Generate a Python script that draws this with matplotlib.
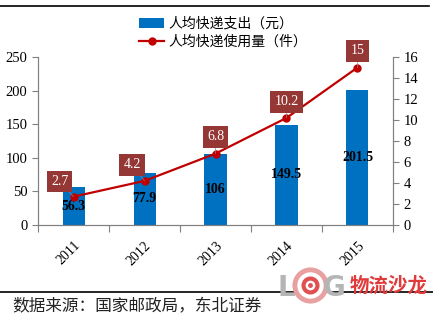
import matplotlib

matplotlib.use("Agg")
import matplotlib.pyplot as plt
from matplotlib.lines import Line2D

plt.rcParams["font.family"] = ["Liberation Serif", "Noto Sans CJK SC", "DejaVu Sans"]

YEARS = ["2011", "2012", "2013", "2014", "2015"]
SPEND = [56.3, 77.9, 106, 149.5, 201.5]
USAGE = [2.7, 4.2, 6.8, 10.2, 15]
USAGE_OFFSETS = [(-10, 11), (-9, 11.5), (0, 12), (0, 11.5), (0, 12)]

SPEND_LABEL = "人均快递支出（元）"
USAGE_LABEL = "人均快递使用量（件）"
SOURCE = "数据来源：国家邮政局，东北证券"

BAR_COLOR = "#0070C0"
LINE_COLOR = "#C00000"
BOX_COLOR = "#953735"
SPINE_COLOR = "#808080"
CJK = ["Noto Sans CJK SC", "DejaVu Sans"]


def main() -> None:
    fig = plt.figure(figsize=(4.33, 3.23), dpi=100)
    ax = fig.add_axes([0.0878, 0.3034, 0.8198, 0.5201])
    ax2 = ax.twinx()

    x = list(range(len(YEARS)))
    bars = ax.bar(x, SPEND, width=0.31, color=BAR_COLOR, zorder=2)
    for xi, v in zip(x, SPEND):
        ax.text(xi, v / 2, f"{v:g}", ha="center", va="center",
                fontsize=10, fontweight="bold", color="black", zorder=3)

    (line,) = ax2.plot(x, USAGE, color=LINE_COLOR, lw=1.6, marker="o", ms=5,
                       zorder=4)
    for xi, v, (dx, dy) in zip(x, USAGE, USAGE_OFFSETS):
        ax2.annotate(
            f"{v:g}", (xi, v), xytext=(dx, dy), textcoords="offset points",
            ha="center", va="center", color="white", fontsize=10,
            bbox=dict(boxstyle="square,pad=0.3", fc=BOX_COLOR, ec="none"),
            arrowprops=dict(arrowstyle="-", color="#8a8a8a", lw=0.5,
                            shrinkA=0, shrinkB=0),
            zorder=5,
        )

    ax.set_xlim(-0.5, len(YEARS) - 0.5)
    ax.set_ylim(0, 250)
    ax.set_yticks(range(0, 251, 50))
    ax2.set_ylim(0, 16)
    ax2.set_yticks(range(0, 17, 2))

    ax.set_xticks([i - 0.5 for i in range(len(YEARS) + 1)])
    ax.set_xticklabels([])
    ax.set_xticks(x, minor=True)
    ax.set_xticklabels(YEARS, minor=True, rotation=45, fontsize=10,
                       ha="right", rotation_mode="anchor")
    ax.tick_params(axis="x", which="minor", length=0, pad=10)
    ax.tick_params(axis="x", which="major", length=5, color=SPINE_COLOR)
    ax.tick_params(axis="y", labelsize=10.5, length=4, color=SPINE_COLOR)
    ax2.tick_params(axis="y", labelsize=10.5, length=4, color=SPINE_COLOR)

    for a in (ax, ax2):
        a.spines["top"].set_visible(False)
        for side in ("left", "right", "bottom"):
            a.spines[side].set_color(SPINE_COLOR)
            a.spines[side].set_linewidth(0.8)

    fig.legend(
        [bars, line], [SPEND_LABEL, USAGE_LABEL],
        loc="center", bbox_to_anchor=(0.515, 0.898), frameon=False,
        prop={"family": CJK, "size": 10}, handlelength=1.8,
        handletextpad=0.3, labelspacing=0.3,
        bbox_transform=fig.transFigure,
    )

    fig.add_artist(Line2D([0.0, 0.99], [0.981, 0.981], color="black", lw=1.2,
                          transform=fig.transFigure))
    fig.add_artist(Line2D([0.0, 1.0], [0.096, 0.096], color="black", lw=1.2,
                          transform=fig.transFigure))
    fig.text(0.028, 0.049, SOURCE, family=CJK, fontsize=12, color="#222222",
             va="center", ha="left")

    # watermark logo
    fig.text(0.642, 0.108, "L", fontsize=20, fontweight="bold", color="#b5b5b5",
             family="DejaVu Sans", va="center")
    for size, col in [(26, "#e8a0a0"), (19, "white"), (13, "#e05050"),
                      (7, "white"), (3.5, "#e05050")]:
        fig.add_artist(Line2D([0.717], [0.118], marker="o", ms=size, mfc=col,
                              mec="none", transform=fig.transFigure))
    fig.text(0.745, 0.108, "G", fontsize=20, fontweight="bold", color="#b5b5b5",
             family="DejaVu Sans", va="center")
    fig.text(0.808, 0.114, "物流沙龙", family=CJK, fontsize=14,
             fontweight="bold", color="#e03a3a", va="center")

    fig.savefig("out.png", dpi=100)
    plt.close(fig)


if __name__ == "__main__":
    main()
